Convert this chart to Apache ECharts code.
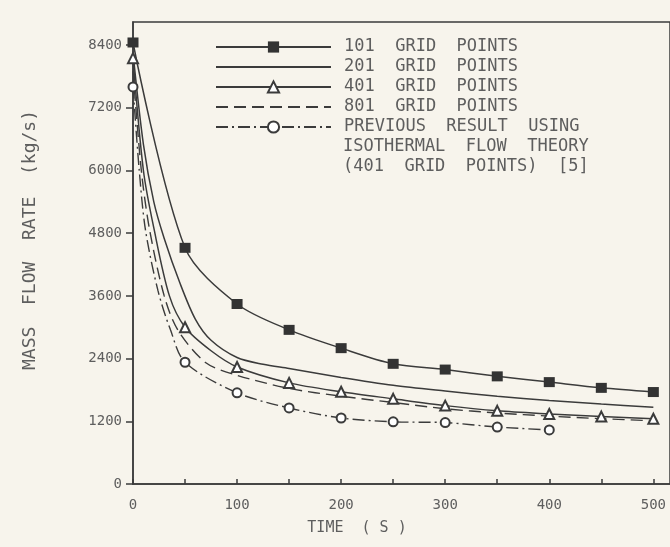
<!DOCTYPE html>
<html>
<head>
<meta charset="utf-8">
<script src="https://cdn.jsdelivr.net/npm/echarts@6/dist/echarts.min.js"></script>
<style>
html,body{margin:0;padding:0;background:#f7f4ec;}
#c{width:670px;height:547px;}
</style>
</head>
<body>
<div id="c"></div>
<script>
// ---- data ----
const xTicks = [0, 100, 200, 300, 400, 500];
const yTicks = [0, 1200, 2400, 3600, 4800, 6000, 7200, 8400];

const t101 = [0, 50, 100, 150, 200, 250, 300, 350, 400, 450, 500];
const v101 = [8450, 4520, 3445, 2950, 2600, 2300, 2190, 2060, 1950, 1840, 1760];

const t201 = [0, 10, 20, 30, 45, 60, 75, 100, 125, 150, 200, 250, 300, 350, 400, 450, 500];
const v201 = [8250, 6500, 5400, 4700, 3850, 3150, 2750, 2420, 2290, 2210, 2040, 1890, 1780, 1680, 1600, 1530, 1470];

const t401 = [0, 10, 20, 35, 50, 75, 100, 150, 200, 250, 300, 350, 400, 450, 500];
const v401 = [8150, 6000, 4900, 3600, 3000, 2550, 2240, 1935, 1765, 1630, 1500, 1400, 1340, 1290, 1250];

const t801 = [0, 8, 16, 30, 43, 70, 100, 150, 200, 250, 300, 350, 400, 450, 500];
const v801 = [7900, 6000, 4860, 3600, 2950, 2320, 2080, 1830, 1680, 1560, 1440, 1360, 1300, 1250, 1210];

const tPrev = [0, 6, 12, 24, 36, 50, 100, 150, 200, 250, 300, 350, 400];
const vPrev = [7600, 6000, 4860, 3700, 2950, 2330, 1745, 1455, 1263, 1190, 1175, 1090, 1035];

const names = ['101  GRID  POINTS', '201  GRID  POINTS', '401  GRID  POINTS', '801  GRID  POINTS',
  'PREVIOUS  RESULT  USING'];
const noteLines = ['ISOTHERMAL  FLOW  THEORY', '(401  GRID  POINTS)  [5]'];
const xTitle = 'TIME  ( S )';
const yTitle = 'MASS  FLOW  RATE  (kg/s)';

// ---- build ----
const ink = '#3b3b3b';
const txt = '#5e5e5e';
const font = 'DejaVu Sans Mono';
function pairs(ts, vs, markEvery) {
  return ts.map((t, i) => {
    const item = { value: [t, vs[i]] };
    if (markEvery && t % markEvery !== 0) item.symbol = 'none';
    return item;
  });
}

const chart = echarts.init(document.getElementById('c'), null, { renderer: 'canvas' });
const common = { type: 'line', smooth: 0.3, animation: false, z: 3 };
const hiddenMark = { color: 'transparent', borderColor: 'transparent' };

chart.setOption({
  backgroundColor: '#f7f4ec',
  grid: { left: 133, right: -2, top: 22, bottom: 63, show: true, borderColor: ink, borderWidth: 1.5, backgroundColor: 'transparent' },
  xAxis: {
    type: 'value', min: 0, max: 516, interval: 50,
    axisLine: { show: true, lineStyle: { color: ink, width: 1.5 } },
    axisTick: { show: true, inside: true, length: 5, lineStyle: { color: ink, width: 1.5 } },
    axisLabel: { color: txt, fontFamily: font, fontSize: 14, margin: 14, showMaxLabel: false,
      formatter: v => (xTicks.indexOf(v) >= 0 ? String(v) : '') },
    splitLine: { show: false }
  },
  yAxis: {
    type: 'value', min: 0, max: 8842, interval: 1200,
    axisLine: { show: true, lineStyle: { color: ink, width: 1.5 } },
    axisTick: { show: true, inside: false, length: 7, lineStyle: { color: ink, width: 1.5 } },
    axisLabel: { color: txt, fontFamily: font, fontSize: 14, margin: 11, showMaxLabel: false,
      formatter: v => (yTicks.indexOf(v) >= 0 ? String(v) : '') },
    splitLine: { show: false }
  },
  legend: {
    orient: 'vertical', left: 215, top: 37, padding: 0, itemWidth: 115, itemHeight: 14, itemGap: 0,
    selectedMode: false,
    textStyle: { color: txt, fontFamily: font, fontSize: 17, lineHeight: 20, padding: [0, 0, 0, 8] },
    data: [
      { name: names[0] },
      { name: names[1], itemStyle: hiddenMark },
      { name: names[2] },
      { name: names[3], itemStyle: hiddenMark },
      { name: names[4], itemStyle: { color: ink, borderColor: ink } }
    ]
  },
  graphic: [
    { type: 'text', x: 343, y: 137, style: { text: noteLines.join('\n'), fill: txt, font: '17px "DejaVu Sans Mono"', lineHeight: 20 } },
    { type: 'text', x: 357, y: 528, style: { text: xTitle, fill: txt, font: '15px "DejaVu Sans Mono"', textAlign: 'center', textVerticalAlign: 'middle' } },
    { type: 'text', x: 30, y: 240, rotation: Math.PI / 2, style: { text: yTitle, fill: txt, font: '18px "DejaVu Sans Mono"', textAlign: 'center', textVerticalAlign: 'middle' } }
  ],
  series: [
    Object.assign({}, common, { name: names[0], data: pairs(t101, v101, 50), symbol: 'rect', symbolSize: [11, 10],
      itemStyle: { color: '#333' }, lineStyle: { color: ink, width: 1.5 } }),
    Object.assign({}, common, { name: names[1], data: pairs(t201, v201), symbol: 'none', showSymbol: false,
      itemStyle: { color: ink }, lineStyle: { color: ink, width: 1.5 } }),
    Object.assign({}, common, { name: names[2], data: pairs(t401, v401, 50), symbol: 'emptyTriangle', symbolSize: 10,
      itemStyle: { color: ink, borderWidth: 1.5 }, lineStyle: { color: ink, width: 1.5 } }),
    Object.assign({}, common, { name: names[3], data: pairs(t801, v801), symbol: 'none', showSymbol: false,
      itemStyle: { color: ink }, lineStyle: { color: ink, width: 1.4, type: [12, 6] } }),
    Object.assign({}, common, { name: names[4], data: pairs(tPrev, vPrev, 50), symbol: 'emptyCircle', symbolSize: 9,
      itemStyle: { color: ink, borderWidth: 1.5 }, lineStyle: { color: ink, width: 1.4, type: [12, 4, 2, 4] } })
  ]
});
</script>
</body>
</html>
